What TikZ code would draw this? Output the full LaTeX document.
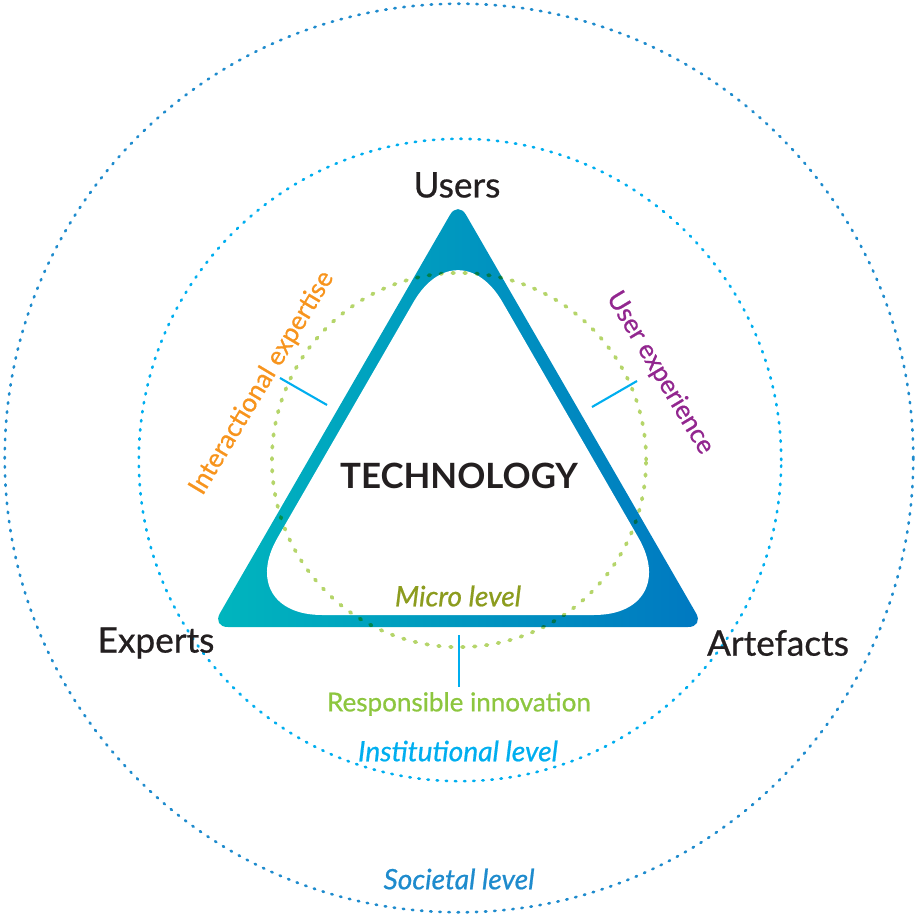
\documentclass[tikz,border=0pt]{standalone}
\usepackage{fontspec}
\setmainfont{Lato}
\newfontfamily\latomed{Lato}[FakeBold=0.7]
\usetikzlibrary{positioning}

\definecolor{inkdark}{HTML}{231F20}
\definecolor{techteal}{HTML}{00B6BE}
\definecolor{techblue}{HTML}{0078C1}
\definecolor{socblue}{HTML}{1E8BCD}
\definecolor{instcyan}{HTML}{00AEEF}
\definecolor{microdot}{HTML}{B5D56A}
\definecolor{microolive}{HTML}{8C9C1E}
\definecolor{respgreen}{HTML}{8DC63F}
\definecolor{interorange}{HTML}{F7941D}
\definecolor{uxpurple}{HTML}{92278F}

\begin{document}
\begin{tikzpicture}[x=0.01cm,y=-0.01cm,
  lvl/.style={line width=0.75pt, dash pattern=on 0.4pt off 2.2pt, line cap=round},
  pointer/.style={draw=instcyan, line width=0.6pt},
  corner/.style={font=\fontsize{10}{12}\latomed, text=inkdark},
  lvltext/.style={font=\fontsize{8}{10}\latomed\itshape},
  sidetext/.style={font=\fontsize{7.4}{9}\latomed}]
\useasboundingbox (0,0) rectangle (914,919);

% levels
\draw[lvl, socblue] (459,458) circle[radius=4.54cm];
\draw[lvl, instcyan] (460,460) circle[radius=3.21cm];

% triangle
\coordinate (apex) at (458,201);
\coordinate (bl) at (212,627);
\coordinate (br) at (704,627);
\shade[left color=techteal, right color=techblue, rounded corners=0.16cm]
  (apex) -- (br) -- (bl) -- cycle;
\fill[white, rounded corners=0.89cm] (458,225) -- (683,615) -- (233,615) -- cycle;

\begin{scope}[blend mode=multiply]
\draw[microdot, line width=1.05pt, dash pattern=on 0.5pt off 2.9pt, line cap=round]
  (459,460) circle[radius=1.87cm];
\end{scope}

% pointers
\coordinate (lt1) at (327,405);
\coordinate (lt2) at (280,378);
\coordinate (rt1) at (592,407);
\coordinate (rt2) at (637,381);
\coordinate (bt1) at (459,635);
\coordinate (bt2) at (459,687);
\draw[pointer] (lt1) -- (lt2);
\draw[pointer] (rt1) -- (rt2);
\draw[pointer] (bt1) -- (bt2);

% labels
\node[corner] (users) at (457,185) {Users};
\node[corner] (experts) at (156,643) {Experts};
\node[corner] (artefacts) at (778,643) {Artefacts};
\node[font=\fontsize{9.9}{12}\bfseries, text=inkdark] (tech) at (459,476) {TECHNOLOGY};
\node[lvltext, text=microolive] (micro) at (458,596) {Micro level};
\node[sidetext, text=respgreen] (resp) at (459,704) {Responsible innovation};
\node[lvltext, text=instcyan] (inst) at (458,751) {Institutional level};
\node[lvltext, text=socblue] (soc) at (459,879) {Societal level};
\node[sidetext, text=interorange, rotate=59] (interexp) at (262,383) {Interactional expertise};
\node[sidetext, text=uxpurple, rotate=-59] (userexp) at (660,373) {User experience};
\end{tikzpicture}
\end{document}
